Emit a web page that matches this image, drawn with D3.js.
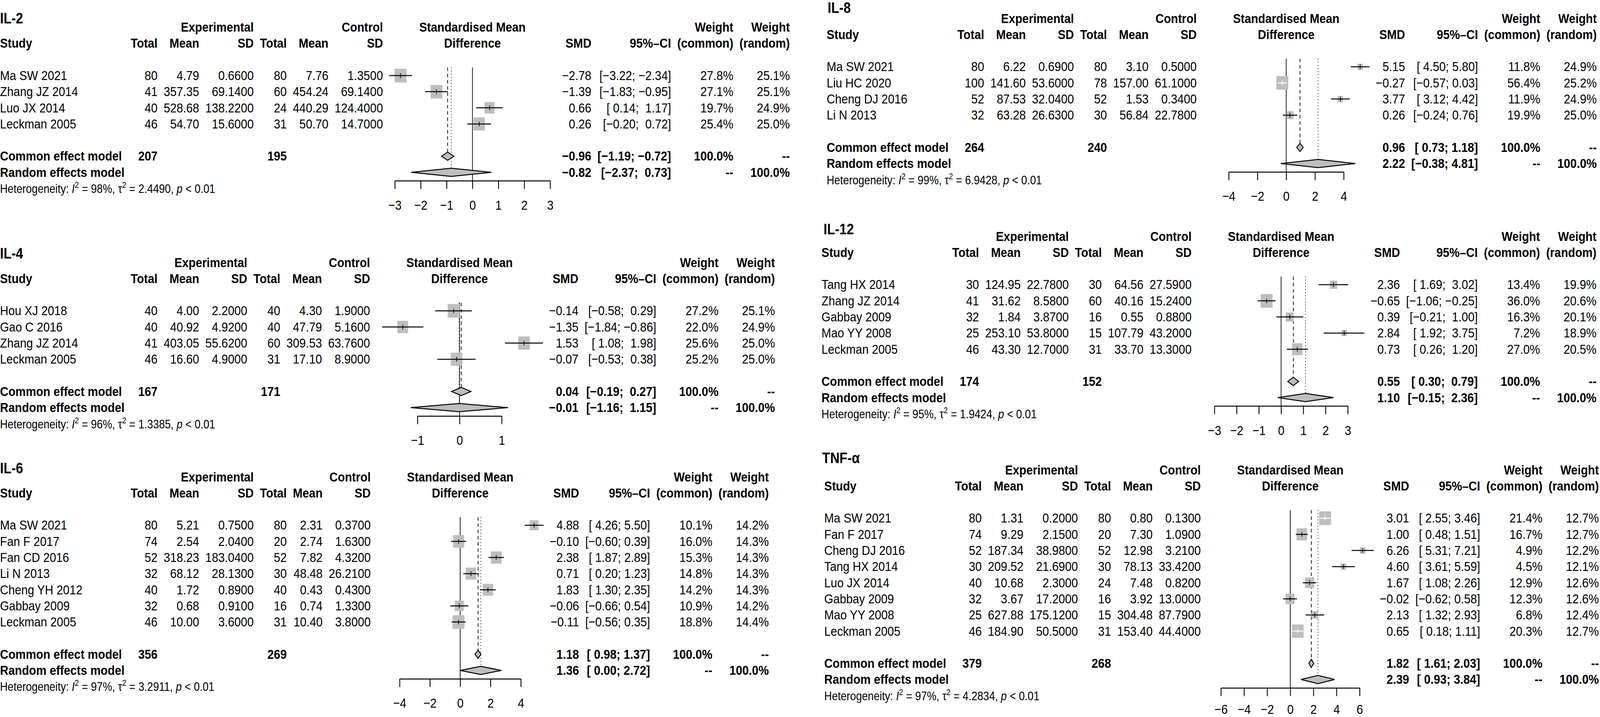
<!DOCTYPE html>
<html>
<head>
<meta charset="utf-8">
<script src="https://cdnjs.cloudflare.com/ajax/libs/d3/7.8.5/d3.min.js"></script>
<style>
  html, body { margin: 0; padding: 0; background: #fff; width: 100%; height: 100%; overflow: hidden; }
  #chart { display: block; width: 100vw; height: 100vh; }
  svg text { font-family: "Liberation Sans", Arial, Helvetica, sans-serif; fill: #000; white-space: pre; }
</style>
</head>
<body>
<svg id="chart" viewBox="0 0 4684 1836" preserveAspectRatio="none"></svg>
<script>
// row: study, expN, expMean, expSD, ctlN, ctlMean, ctlSD, smd, lower, upper, wCommon, wRandom
const il2Rows = [
    ["Ma SW 2021", 80, 4.79, 0.66, 80, 7.76, 1.35, -2.78, -3.22, -2.34, 27.8, 25.1],
    ["Zhang JZ 2014", 41, 357.35, 69.14, 60, 454.24, 69.14, -1.39, -1.83, -0.95, 27.1, 25.1],
    ["Luo JX 2014", 40, 528.68, 138.22, 24, 440.29, 124.40, 0.66, 0.14, 1.17, 19.7, 24.9],
    ["Leckman 2005", 46, 54.70, 15.60, 31, 50.70, 14.70, 0.26, -0.20, 0.72, 25.4, 25.0]
];
const il2Totals = [207, 195];
const il2Pooled = [[-0.96, -1.19, -0.72], [-0.82, -2.37, 0.73]]; // common, random
const il2Het = [98, 2.4490];
const il2Ticks = [-3, -2, -1, 0, 1, 2, 3];

const il4Rows = [
    ["Hou XJ 2018", 40, 4.00, 2.20, 40, 4.30, 1.90, -0.14, -0.58, 0.29, 27.2, 25.1],
    ["Gao C 2016", 40, 40.92, 4.92, 40, 47.79, 5.16, -1.35, -1.84, -0.86, 22.0, 24.9],
    ["Zhang JZ 2014", 41, 403.05, 55.62, 60, 309.53, 63.76, 1.53, 1.08, 1.98, 25.6, 25.0],
    ["Leckman 2005", 46, 16.60, 4.90, 31, 17.10, 8.90, -0.07, -0.53, 0.38, 25.2, 25.0]
];
const il4Totals = [167, 171];
const il4Pooled = [[0.04, -0.19, 0.27], [-0.01, -1.16, 1.15]];
const il4Het = [96, 1.3385];
const il4Ticks = [-1, 0, 1];

const il6Rows = [
    ["Ma SW 2021", 80, 5.21, 0.75, 80, 2.31, 0.37, 4.88, 4.26, 5.50, 10.1, 14.2],
    ["Fan F 2017", 74, 2.54, 2.04, 20, 2.74, 1.63, -0.10, -0.60, 0.39, 16.0, 14.3],
    ["Fan CD 2016", 52, 318.23, 183.04, 52, 7.82, 4.32, 2.38, 1.87, 2.89, 15.3, 14.3],
    ["Li N 2013", 32, 68.12, 28.13, 30, 48.48, 26.21, 0.71, 0.20, 1.23, 14.8, 14.3],
    ["Cheng YH 2012", 40, 1.72, 0.89, 40, 0.43, 0.43, 1.83, 1.30, 2.35, 14.2, 14.3],
    ["Gabbay 2009", 32, 0.68, 0.91, 16, 0.74, 1.33, -0.06, -0.66, 0.54, 10.9, 14.2],
    ["Leckman 2005", 46, 10.00, 3.60, 31, 10.40, 3.80, -0.11, -0.56, 0.35, 18.8, 14.4]
];
const il6Totals = [356, 269];
const il6Pooled = [[1.18, 0.98, 1.37], [1.36, 0.00, 2.72]];
const il6Het = [97, 3.2911];
const il6Ticks = [-4, -2, 0, 2, 4];

const il8Rows = [
    ["Ma SW 2021", 80, 6.22, 0.69, 80, 3.10, 0.50, 5.15, 4.50, 5.80, 11.8, 24.9],
    ["Liu HC 2020", 100, 141.60, 53.60, 78, 157.00, 61.10, -0.27, -0.57, 0.03, 56.4, 25.2],
    ["Cheng DJ 2016", 52, 87.53, 32.04, 52, 1.53, 0.34, 3.77, 3.12, 4.42, 11.9, 24.9],
    ["Li N 2013", 32, 63.28, 26.63, 30, 56.84, 22.78, 0.26, -0.24, 0.76, 19.9, 25.0]
];
const il8Totals = [264, 240];
const il8Pooled = [[0.96, 0.73, 1.18], [2.22, -0.38, 4.81]];
const il8Het = [99, 6.9428];
const il8Ticks = [-4, -2, 0, 2, 4];

const il12Rows = [
    ["Tang HX 2014", 30, 124.95, 22.78, 30, 64.56, 27.59, 2.36, 1.69, 3.02, 13.4, 19.9],
    ["Zhang JZ 2014", 41, 31.62, 8.58, 60, 40.16, 15.24, -0.65, -1.06, -0.25, 36.0, 20.6],
    ["Gabbay 2009", 32, 1.84, 3.87, 16, 0.55, 0.88, 0.39, -0.21, 1.00, 16.3, 20.1],
    ["Mao YY 2008", 25, 253.10, 53.80, 15, 107.79, 43.20, 2.84, 1.92, 3.75, 7.2, 18.9],
    ["Leckman 2005", 46, 43.30, 12.70, 31, 33.70, 13.30, 0.73, 0.26, 1.20, 27.0, 20.5]
];
const il12Totals = [174, 152];
const il12Pooled = [[0.55, 0.30, 0.79], [1.10, -0.15, 2.36]];
const il12Het = [95, 1.9424];
const il12Ticks = [-3, -2, -1, 0, 1, 2, 3];

const tnfRows = [
    ["Ma SW 2021", 80, 1.31, 0.20, 80, 0.80, 0.13, 3.01, 2.55, 3.46, 21.4, 12.7],
    ["Fan F 2017", 74, 9.29, 2.15, 20, 7.30, 1.09, 1.00, 0.48, 1.51, 16.7, 12.7],
    ["Cheng DJ 2016", 52, 187.34, 38.98, 52, 12.98, 3.21, 6.26, 5.31, 7.21, 4.9, 12.2],
    ["Tang HX 2014", 30, 209.52, 21.69, 30, 78.13, 33.42, 4.60, 3.61, 5.59, 4.5, 12.1],
    ["Luo JX 2014", 40, 10.68, 2.30, 24, 7.48, 0.82, 1.67, 1.08, 2.26, 12.9, 12.6],
    ["Gabbay 2009", 32, 3.67, 17.20, 16, 3.92, 13.00, -0.02, -0.62, 0.58, 12.3, 12.6],
    ["Mao YY 2008", 25, 627.88, 175.12, 15, 304.48, 87.79, 2.13, 1.32, 2.93, 6.8, 12.4],
    ["Leckman 2005", 46, 184.90, 50.50, 31, 153.40, 44.40, 0.65, 0.18, 1.11, 20.3, 12.7]
];
const tnfTotals = [379, 268];
const tnfPooled = [[1.82, 1.61, 2.03], [2.39, 0.93, 3.84]];
const tnfHet = [97, 4.2834];
const tnfTicks = [-6, -4, -2, 0, 2, 4, 6];

// where each forest plot sits on the page
const panels = [
    { title: "IL-2", rows: il2Rows, totals: il2Totals, pooled: il2Pooled, het: il2Het, ticks: il2Ticks, x: 0, y0: 193.5, tx: 0, ty: 60 },
    { title: "IL-4", rows: il4Rows, totals: il4Totals, pooled: il4Pooled, het: il4Het, ticks: il4Ticks, x: 0, y0: 796, tx: 0, ty: 662 },
    { title: "IL-6", rows: il6Rows, totals: il6Totals, pooled: il6Pooled, het: il6Het, ticks: il6Ticks, x: 0, y0: 1345, tx: 0, ty: 1212 },
    { title: "IL-8", rows: il8Rows, totals: il8Totals, pooled: il8Pooled, het: il8Het, ticks: il8Ticks, x: 2420, y0: 171, tx: 2423, ty: 33 },
    { title: "IL-12", rows: il12Rows, totals: il12Totals, pooled: il12Pooled, het: il12Het, ticks: il12Ticks, x: 2405, y0: 729, tx: 2411, ty: 600 },
    { title: "TNF-α", rows: tnfRows, totals: tnfTotals, pooled: tnfPooled, het: tnfHet, ticks: tnfTicks, x: 2413, y0: 1327, tx: 2407, ty: 1186 }
];

const FONT = '"Liberation Sans", Arial, Helvetica, sans-serif';
const FS = 34, HET_FS = 31, TITLE_FS = 38;
const GAP = 18, U = 41.3, PLOT_W = 488, SQ_MAX = 35, DIA_H = 21;
const PAGE_H = 1836;
const GREY = "#bebebe";

const f1 = d3.format(".1f"), f2 = d3.format(".2f"), f4 = d3.format(".4f");

const svg = d3.select("#chart");
svg.append("rect").attr("width", 4684).attr("height", PAGE_H).attr("fill", "#fff");

// hidden text node used to measure column widths
const meas = svg.append("text").attr("font-size", FS).style("visibility", "hidden");
function textWidth(s, bold) {
    meas.attr("font-weight", bold ? "bold" : "normal").text(s);
    return meas.node().getBBox().width;
}

function drawPanel(p) {
    const n = p.rows.length;
    const g = svg.append("g");
    const rowY = r => p.y0 + r * U;
    const base = r => rowY(r) + 11.5;
    const [common, random] = p.pooled;

    // confidence interval strings, padded like meta does
    const lows = p.rows.map(d => f2(d[8])).concat([f2(common[1]), f2(random[1])]);
    const ups = p.rows.map(d => f2(d[9])).concat([f2(common[2]), f2(random[2])]);
    const lw = d3.max(lows, s => s.length), uw = d3.max(ups, s => s.length);
    const ci = (lo, hi) => "[" + f2(lo).padStart(lw) + "; " + f2(hi).padStart(uw) + "]";

    const T = (r, t, b) => ({ r, t, b });
    const cols = [
        { align: "start", cells: [T(-2, "Study", 1), ...p.rows.map((d, i) => T(i, d[0])), T(n + 1, "Common effect model", 1), T(n + 2, "Random effects model", 1)] },
        { cells: [T(-2, "Total", 1), ...p.rows.map((d, i) => T(i, String(d[1]))), T(n + 1, String(p.totals[0]), 1)] },
        { cells: [T(-2, "Mean", 1), ...p.rows.map((d, i) => T(i, f2(d[2])))] },
        { over: "Experimental", cells: [T(-2, "SD", 1), ...p.rows.map((d, i) => T(i, f4(d[3])))] },
        { cells: [T(-2, "Total", 1), ...p.rows.map((d, i) => T(i, String(d[4]))), T(n + 1, String(p.totals[1]), 1)] },
        { cells: [T(-2, "Mean", 1), ...p.rows.map((d, i) => T(i, f2(d[5])))] },
        { over: "Control", cells: [T(-2, "SD", 1), ...p.rows.map((d, i) => T(i, f4(d[6])))] },
        { forest: true },
        { cells: [T(-2, "SMD", 1), ...p.rows.map((d, i) => T(i, f2(d[7]))), T(n + 1, f2(common[0]), 1), T(n + 2, f2(random[0]), 1)] },
        { cells: [T(-2, "95%–CI", 1), ...p.rows.map((d, i) => T(i, ci(d[8], d[9]))), T(n + 1, ci(common[1], common[2]), 1), T(n + 2, ci(random[1], random[2]), 1)] },
        { cells: [T(-3, "Weight", 1), T(-2, "(common)", 1), ...p.rows.map((d, i) => T(i, f1(d[10]) + "%")), T(n + 1, "100.0%", 1), T(n + 2, "--", 1)] },
        { cells: [T(-3, "Weight", 1), T(-2, "(random)", 1), ...p.rows.map((d, i) => T(i, f1(d[11]) + "%")), T(n + 1, "--", 1), T(n + 2, "100.0%", 1)] }
    ];

    // lay out columns left to right
    let right = p.x - GAP;
    let forestLeft = 0;
    cols.forEach(c => {
        const w = c.forest ? PLOT_W : d3.max(c.cells, d => textWidth(d.t, d.b));
        c.left = right + GAP;
        c.right = c.left + w;
        right = c.right;
        if (c.forest) forestLeft = c.left;
    });

    // text cells
    cols.filter(c => !c.forest).forEach(c => {
        const start = c.align === "start";
        g.append("g").selectAll("text")
            .data(c.cells)
            .join("text")
            .attr("x", start ? c.left : c.right)
            .attr("y", d => base(d.r))
            .attr("text-anchor", start ? "start" : "end")
            .attr("font-size", FS)
            .attr("font-weight", d => d.b ? "bold" : "normal")
            .text(d => d.t);
        if (c.over) {
            g.append("text").attr("x", c.right).attr("y", base(-3))
                .attr("text-anchor", "end").attr("font-size", FS).attr("font-weight", "bold")
                .text(c.over);
        }
    });

    // forest scale, symmetric around zero
    const xlim = d3.max(p.rows, d => Math.max(Math.abs(d[8]), Math.abs(d[9])));
    const xs = d3.scaleLinear().domain([-xlim, xlim]).range([forestLeft, forestLeft + PLOT_W]);

    g.append("text").attr("x", xs(0)).attr("y", base(-3)).attr("text-anchor", "middle")
        .attr("font-size", FS).attr("font-weight", "bold").text("Standardised Mean");
    g.append("text").attr("x", xs(0)).attr("y", base(-2)).attr("text-anchor", "middle")
        .attr("font-size", FS).attr("font-weight", "bold").text("Difference");

    const top = rowY(-0.5);
    const axisY = rowY(n + 2) + 21.5;

    // reference lines: no effect, common (dashed), random (dotted)
    g.append("line").attr("x1", xs(0)).attr("x2", xs(0)).attr("y1", top).attr("y2", axisY)
        .attr("stroke", "#000").attr("stroke-width", 2);
    g.append("line").attr("x1", xs(common[0])).attr("x2", xs(common[0]))
        .attr("y1", top).attr("y2", rowY(n + 1) - DIA_H / 2)
        .attr("stroke", "#000").attr("stroke-width", 2).attr("stroke-dasharray", "9,7");
    g.append("line").attr("x1", xs(random[0])).attr("x2", xs(random[0]))
        .attr("y1", top).attr("y2", rowY(n + 2) - DIA_H / 2)
        .attr("stroke", "#000").attr("stroke-width", 2).attr("stroke-dasharray", "2,6");

    // study squares (side ~ sqrt of common weight)
    const wmax = d3.max(p.rows, d => d[10]);
    const side = d => SQ_MAX * Math.sqrt(d[10] / wmax);
    const inside = d => xs(d[8]) >= xs(d[7]) - side(d) / 2 && xs(d[9]) <= xs(d[7]) + side(d) / 2;

    g.append("g").selectAll("rect")
        .data(p.rows)
        .join("rect")
        .attr("x", d => xs(d[7]) - side(d) / 2)
        .attr("y", (d, i) => rowY(i) - side(d) / 2)
        .attr("width", side)
        .attr("height", side)
        .attr("fill", GREY);

    g.append("g").selectAll("line")
        .data(p.rows)
        .join("line")
        .attr("x1", d => xs(d[8]))
        .attr("x2", d => xs(d[9]))
        .attr("y1", (d, i) => rowY(i))
        .attr("y2", (d, i) => rowY(i))
        .attr("stroke", d => inside(d) ? "#fff" : "#000")
        .attr("stroke-width", 2.5);

    g.append("g").selectAll("line")
        .data(p.rows)
        .join("line")
        .attr("x1", d => xs(d[7]))
        .attr("x2", d => xs(d[7]))
        .attr("y1", (d, i) => rowY(i) - 6)
        .attr("y2", (d, i) => rowY(i) + 6)
        .attr("stroke", d => inside(d) ? "#fff" : "#000")
        .attr("stroke-width", 2);

    // pooled diamonds
    g.append("g").selectAll("polygon")
        .data(p.pooled)
        .join("polygon")
        .attr("points", (d, i) => {
            const y = rowY(n + 1 + i);
            return [[xs(d[1]), y], [xs(d[0]), y - DIA_H / 2], [xs(d[2]), y], [xs(d[0]), y + DIA_H / 2]].join(" ");
        })
        .attr("fill", GREY)
        .attr("stroke", "#000")
        .attr("stroke-width", 2.5);

    // axis spanning first to last tick; labels kept inside the page
    const t0 = p.ticks[0], t1 = p.ticks[p.ticks.length - 1];
    const axScale = d3.scaleLinear().domain([t0, t1]).range([xs(t0), xs(t1)]);
    const pad = Math.min(29, PAGE_H - 8 - axisY - 21 - 0.71 * FS);
    const ax = g.append("g")
        .attr("transform", `translate(0,${axisY})`)
        .call(d3.axisBottom(axScale).tickValues(p.ticks).tickSize(21).tickSizeOuter(0).tickPadding(pad).tickFormat(d3.format("d")));
    ax.attr("font-size", FS).attr("font-family", FONT);
    ax.selectAll("path, line").attr("stroke", "#000").attr("stroke-width", 2.5);

    // heterogeneity line
    const het = g.append("text").attr("x", p.x).attr("y", base(n + 3)).attr("font-size", HET_FS);
    het.append("tspan").text("Heterogeneity: ");
    het.append("tspan").attr("font-style", "italic").text("I");
    het.append("tspan").attr("dy", -13).attr("font-size", HET_FS * 0.7).text("2");
    het.append("tspan").attr("dy", 13).text(` = ${p.het[0]}%, τ`);
    het.append("tspan").attr("dy", -13).attr("font-size", HET_FS * 0.7).text("2");
    het.append("tspan").attr("dy", 13).text(` = ${f4(p.het[1])}, `);
    het.append("tspan").attr("font-style", "italic").text("p");
    het.append("tspan").text(" < 0.01");

    // panel title
    g.append("text").attr("x", p.tx).attr("y", p.ty)
        .attr("font-size", TITLE_FS).attr("font-weight", "bold").text(p.title);
}

panels.forEach(drawPanel);
meas.remove();
</script>
</body>
</html>
